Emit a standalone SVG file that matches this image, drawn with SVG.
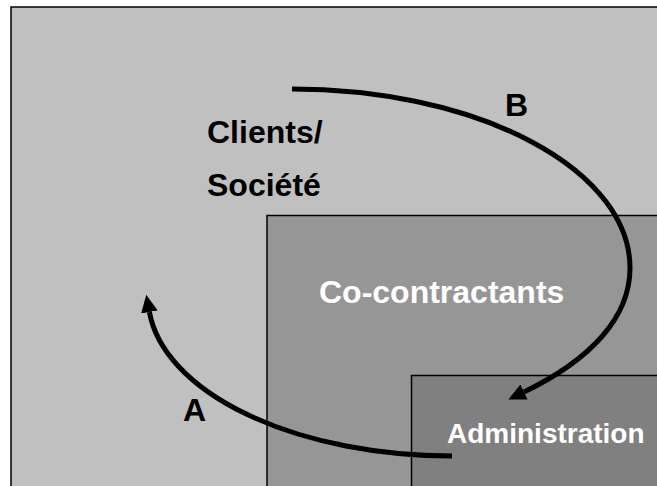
<svg xmlns="http://www.w3.org/2000/svg" width="657" height="486" viewBox="0 0 657 486">
  <style>
    .box { stroke: #000; stroke-width: 1.5; }
    .lbl { font-family: "Liberation Sans", Arial, sans-serif; font-weight: bold; font-size: 32px; }
    .small { font-size: 28px; }
    .dark { fill: #000; }
    .light { fill: #fff; }
    .flow { fill: none; stroke: #000; stroke-width: 5; }
  </style>
  <defs>
    <marker id="head" markerUnits="userSpaceOnUse" markerWidth="18" markerHeight="18" viewBox="0 -8 16 16" refX="0" refY="0" orient="auto">
      <path d="M0,-7.5 L15.5,0 L0,7.5 z" fill="#000"/>
    </marker>
  </defs>

  <g id="clients-societe">
    <rect class="box" x="11" y="7" width="700" height="500" fill="#c0c0c0" stroke-width="2"/>
    <text class="lbl dark" x="207" y="143">Clients/</text>
    <text class="lbl dark" x="207" y="196">Société</text>
  </g>

  <g id="co-contractants">
    <rect class="box" x="267" y="215.5" width="450" height="300" fill="#969696"/>
    <text class="lbl light" x="319" y="303">Co-contractants</text>
  </g>

  <g id="administration">
    <rect class="box" x="411.5" y="375.5" width="300" height="150" fill="#808080"/>
    <text class="lbl small light" x="447" y="443">Administration</text>
  </g>

  <g id="connectors">
    <!-- B: from society down into administration -->
    <path class="flow" d="M292,89 A338,179 0 0 1 630,268 C630,318 590,360 524,392" marker-end="url(#head)"/>
    <text class="lbl dark" x="505" y="116">B</text>
    <!-- A: from administration back out to society -->
    <path class="flow" d="M452,456 A304,159 0 0 1 149.4,312" marker-end="url(#head)"/>
    <text class="lbl dark" x="183" y="421">A</text>
  </g>
</svg>
